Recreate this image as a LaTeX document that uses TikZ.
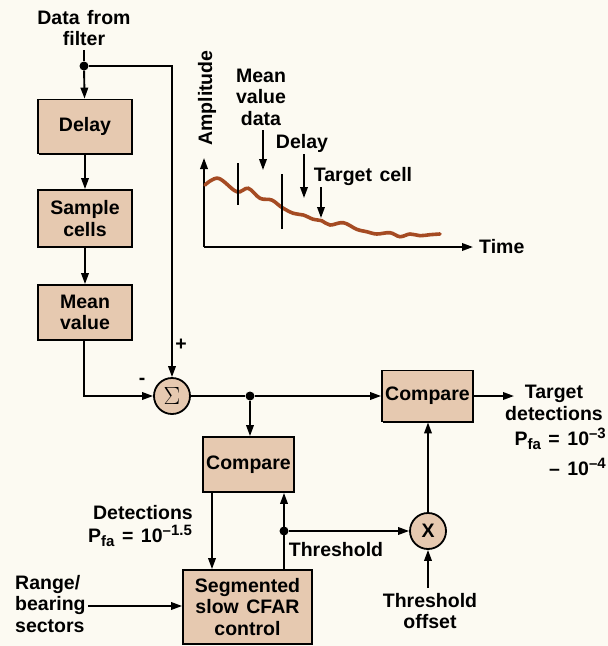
\documentclass[tikz,border=0pt]{standalone}
\usepackage{fontspec}
\setmainfont{Liberation Sans}[WordSpace=1.4]
\usetikzlibrary{arrows.meta,shadows}
\definecolor{bgc}{RGB}{252,250,242}
\definecolor{boxfill}{RGB}{230,201,176}
\definecolor{curvec}{RGB}{165,75,35}
\newcommand{\mysub}[1]{\raisebox{-4pt}{\fontsize{15}{15}\selectfont #1}}
\newcommand{\mysup}[1]{\raisebox{7pt}{\fontsize{15}{15}\selectfont #1}}
\tikzset{
  blk/.style={draw=black, line width=1.8pt, fill=boxfill, inner sep=0pt, align=center,
    drop shadow={shadow xshift=1.3pt, shadow yshift=-1.3pt, fill=black, opacity=1}},
  sumc/.style={circle, draw=black, line width=1.8pt, fill=boxfill, minimum size=36pt, inner sep=0pt},
  jdot/.style={circle, fill=black, minimum size=9pt, inner sep=0pt},
  con/.style={line width=1.9pt},
  arr/.style={con, -{Triangle[length=11pt,width=7.5pt]}},
  lbl/.style={align=center, inner sep=0pt},
}
\begin{document}
\begin{tikzpicture}[x=1pt,y=-1pt,font=\fontsize{19.5}{21.5}\selectfont\bfseries]
\useasboundingbox (0,0) rectangle (608,646);
\fill[bgc] (0,0) rectangle (608,646);

% left chain
\node[lbl] (src) at (84,28) {Data from\\filter};
\coordinate (srcend) at (84,50);
\node[jdot] (in) at (84,66) {};
\node[blk, minimum width=94pt, minimum height=54pt] (delay) at (85,126.5) {Delay};
\node[blk, minimum width=94pt, minimum height=57pt] (sample) at (85,218.5) {Sample\\cells};
\node[blk, minimum width=94pt, minimum height=55pt] (mean) at (85,312.5) {Mean\\value};

\node[sumc] (sum) at (172,396) {\fontsize{24}{24}\selectfont$\Sigma$};
\node[jdot] (split) at (250,396) {};
\node[blk, minimum width=91pt, minimum height=55pt] (cmpA) at (248.5,464.5) {Compare};
\node[blk, minimum width=91pt, minimum height=51pt] (cmpB) at (427.5,396) {Compare};
\node[blk, minimum width=129pt, minimum height=74pt] (seg) at (247.5,607) {Segmented\\slow CFAR\\control};
\node[sumc] (mult) at (428,531) {X};
\node[jdot] (thr) at (284,531) {};

\node[lbl] (plus) at (181,345) {+};
\node[lbl] (minus) at (142,381) {-};

\draw[con] (srcend) -- (in);
\draw[arr] (in) -- (delay);
\draw[arr] (delay) -- (sample);
\draw[arr] (sample) -- (mean);
\draw[arr] (in) -| (sum);
\draw[arr] (mean.south -| in) |- (sum);
\draw[con] (sum) -- (split);
\draw[arr] (split) -- (cmpB.west |- split);
\draw[arr] (split) -- (split |- cmpA.north);
\coordinate (dnx) at (212,0);
\draw[arr] (dnx |- cmpA.south) -- (dnx |- seg.north);
\draw[arr] (thr |- seg.north) -- (thr |- cmpA.south);
\draw[arr] (thr) -- (mult);
\draw[arr] (mult) -- (mult |- cmpB.south);
\coordinate (outend) at (514,396);
\draw[arr] (cmpB.east |- outend) -- (outend);
\coordinate (rbstart) at (88,606);
\draw[arr] (rbstart) -- (rbstart -| seg.west);
\coordinate (offstart) at (428,588);
\draw[arr] (offstart) -- (mult);

% labels
\node[lbl] (detl) at (143,513) {Detections};
\node[lbl] (pfal) at (140,536) {P\mysub{fa} = 10\mysup{--1.5}};
\node[lbl] (thrl) at (336,550) {Threshold};
\node[lbl, align=left, anchor=west] (rb) at (15,604) {Range/\\bearing\\sectors};
\node[lbl] (offl) at (430,611) {Threshold\\offset};
\node[lbl] (tdet) at (554,403) {Target\\detections};
\node[lbl, anchor=east] (pfa3) at (606,439) {P\mysub{fa} = 10\mysup{--3}};
\node[lbl, anchor=east] (pfa4) at (606,467) {-- 10\mysup{--4}};

% graph
\coordinate (origin) at (204,247);
\coordinate (ytop) at (204,158);
\coordinate (xend) at (473,247);
\draw[arr] (origin) -- (ytop);
\draw[arr] (origin) -- (xend);
\node[lbl, rotate=90] (ampl) at (207,98) {Amplitude};
\node[lbl, anchor=west] (timel) at (479,247) {Time};
\draw[curvec, line width=3.6pt, line cap=round, smooth, tension=0.6]
  plot coordinates {(205,185) (218.3,178.3) (236.7,191.7) (248.3,188.3) (260,198.3) (271.7,200)
  (281.7,207.3) (293.3,213.3) (303.3,215) (313.3,219.3) (321.7,220.7) (330,225) (343.3,222.7)
  (356.7,229.3) (366.7,231.7) (376.7,234) (390,232.7) (400,236.7) (410,234) (420,235.7)
  (430,234.7) (440,234)};
\draw[line width=2.8pt] (238,163) -- (238,205);
\draw[line width=2.8pt] (282,174) -- (282,229);
\node[lbl] (mvd) at (261,97) {Mean\\value\\data};
\coordinate (mvdtip) at (263,170);
\draw[arr] (263,130) -- (mvdtip);
\node[lbl] (dell) at (302,143) {Delay};
\coordinate (deltip) at (304,198);
\draw[arr] (304,154) -- (deltip);
\node[lbl] (tcl) at (363,176) {Target cell};
\coordinate (tctip) at (321,218);
\draw[arr] (321,187) -- (tctip);
\end{tikzpicture}
\end{document}
